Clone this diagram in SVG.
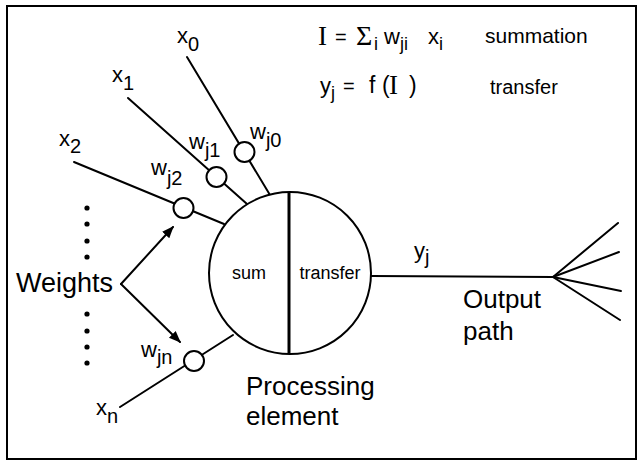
<svg xmlns="http://www.w3.org/2000/svg" width="638" height="461" viewBox="0 0 638 461">
<style>
.ln{stroke:#000;stroke-width:2;fill:none;stroke-linecap:round}
.wt{fill:#fff;stroke:#000;stroke-width:2}
.t{font-family:"Liberation Sans",Arial,sans-serif;fill:#000}
.s{font-family:"Liberation Serif","Times New Roman",serif;fill:#000}
.dot{fill:#000}
</style>
<defs>
<marker id="ah" viewBox="0 0 10 10" refX="9" refY="5" markerWidth="12" markerHeight="12" markerUnits="userSpaceOnUse" orient="auto">
<path d="M0,1 L10,5 L0,9 Z" fill="#000"/>
</marker>
</defs>
<rect x="0" y="0" width="638" height="461" fill="#fff"/>
<rect x="7" y="6" width="629" height="453" fill="none" stroke="#000" stroke-width="2"/>

<g id="connectors">
<line class="ln" x1="187" y1="57" x2="270" y2="195"/>
<line class="ln" x1="128" y1="98" x2="247" y2="204"/>
<line class="ln" x1="74" y1="162" x2="224" y2="224"/>
<line class="ln" x1="120" y1="407" x2="233" y2="335"/>
<line class="ln" x1="371" y1="276" x2="553" y2="277"/>
<line class="ln" x1="553" y1="277" x2="618" y2="223"/>
<line class="ln" x1="553" y1="277" x2="619" y2="252"/>
<line class="ln" x1="553" y1="277" x2="621" y2="291"/>
<line class="ln" x1="553" y1="277" x2="620" y2="320"/>
<line class="ln" x1="121" y1="284" x2="173" y2="227" marker-end="url(#ah)"/>
<line class="ln" x1="121" y1="284" x2="180" y2="342" marker-end="url(#ah)"/>
</g>

<g id="processing-element">
<circle cx="290" cy="273" r="81" fill="#fff" stroke="#000" stroke-width="2"/>
<line x1="289" y1="193" x2="289" y2="354" stroke="#000" stroke-width="3"/>
<text class="t" x="249" y="279" font-size="18" text-anchor="middle">sum</text>
<text class="t" x="330" y="279" font-size="18" text-anchor="middle">transfer</text>
<text class="t" x="246" y="395" font-size="26">Processing</text>
<text class="t" x="246" y="425" font-size="26">element</text>
</g>

<g id="weight-j0"><circle class="wt" cx="244.5" cy="152" r="10"/>
<text class="t" x="250" y="139" font-size="22">w<tspan font-size="20" dy="8">j0</tspan></text></g>
<g id="weight-j1"><circle class="wt" cx="216.5" cy="177" r="10"/>
<text class="t" x="189" y="149" font-size="22">w<tspan font-size="20" dy="8">j1</tspan></text></g>
<g id="weight-j2"><circle class="wt" cx="183.5" cy="208" r="10"/>
<text class="t" x="151" y="175" font-size="22">w<tspan font-size="20" dy="10">j2</tspan></text></g>
<g id="weight-jn"><circle class="wt" cx="194" cy="361" r="10"/>
<text class="t" x="141" y="357" font-size="22">w<tspan font-size="20" dy="7">jn</tspan></text></g>

<g id="input-x0"><text class="t" x="177" y="43" font-size="22">x<tspan font-size="20" dy="8">0</tspan></text></g>
<g id="input-x1"><text class="t" x="112" y="82" font-size="22">x<tspan font-size="20" dy="8">1</tspan></text></g>
<g id="input-x2"><text class="t" x="59" y="146" font-size="22">x<tspan font-size="20" dy="7">2</tspan></text></g>
<g id="input-xn"><text class="t" x="96" y="415" font-size="22">x<tspan font-size="20" dy="8">n</tspan></text></g>

<g id="dots">
<circle class="dot" cx="87" cy="208" r="2.6"/>
<circle class="dot" cx="87" cy="224" r="2.6"/>
<circle class="dot" cx="87" cy="241" r="2.6"/>
<circle class="dot" cx="87" cy="257" r="2.6"/>
<circle class="dot" cx="87" cy="314" r="2.6"/>
<circle class="dot" cx="87" cy="331" r="2.6"/>
<circle class="dot" cx="87" cy="347" r="2.6"/>
<circle class="dot" cx="87" cy="363" r="2.6"/>
</g>

<g id="weights-label"><text class="t" x="16" y="292" font-size="27">Weights</text></g>

<g id="output">
<text class="t" x="414" y="258" font-size="22">y<tspan font-size="20" dy="6">j</tspan></text>
<text class="t" x="463" y="308" font-size="26">Output</text>
<text class="t" x="463" y="340" font-size="26">path</text>
</g>

<g id="formulas">
<text class="s" x="318" y="45" font-size="27">I</text>
<text class="t" x="335" y="44" font-size="20">=</text>
<text class="s" x="356" y="45" font-size="28">Σ</text>
<text class="t" x="374" y="50" font-size="18">i</text>
<text class="t" x="384" y="44" font-size="22">w<tspan font-size="18" dy="6">ji</tspan></text>
<text class="t" x="428" y="44" font-size="22">x<tspan font-size="18" dy="6">i</tspan></text>
<text class="t" x="485" y="43" font-size="21">summation</text>
<text class="t" x="320" y="93" font-size="22">y<tspan font-size="18" dy="6">j</tspan></text>
<text class="t" x="343" y="93" font-size="20">=</text>
<text class="t" x="369" y="93" font-size="23">f</text>
<text class="t" x="382" y="93" font-size="23">(</text>
<text class="s" x="389" y="94" font-size="27">I</text>
<text class="t" x="409" y="93" font-size="23">)</text>
<text class="t" x="490" y="94" font-size="20">transfer</text>
</g>
</svg>
